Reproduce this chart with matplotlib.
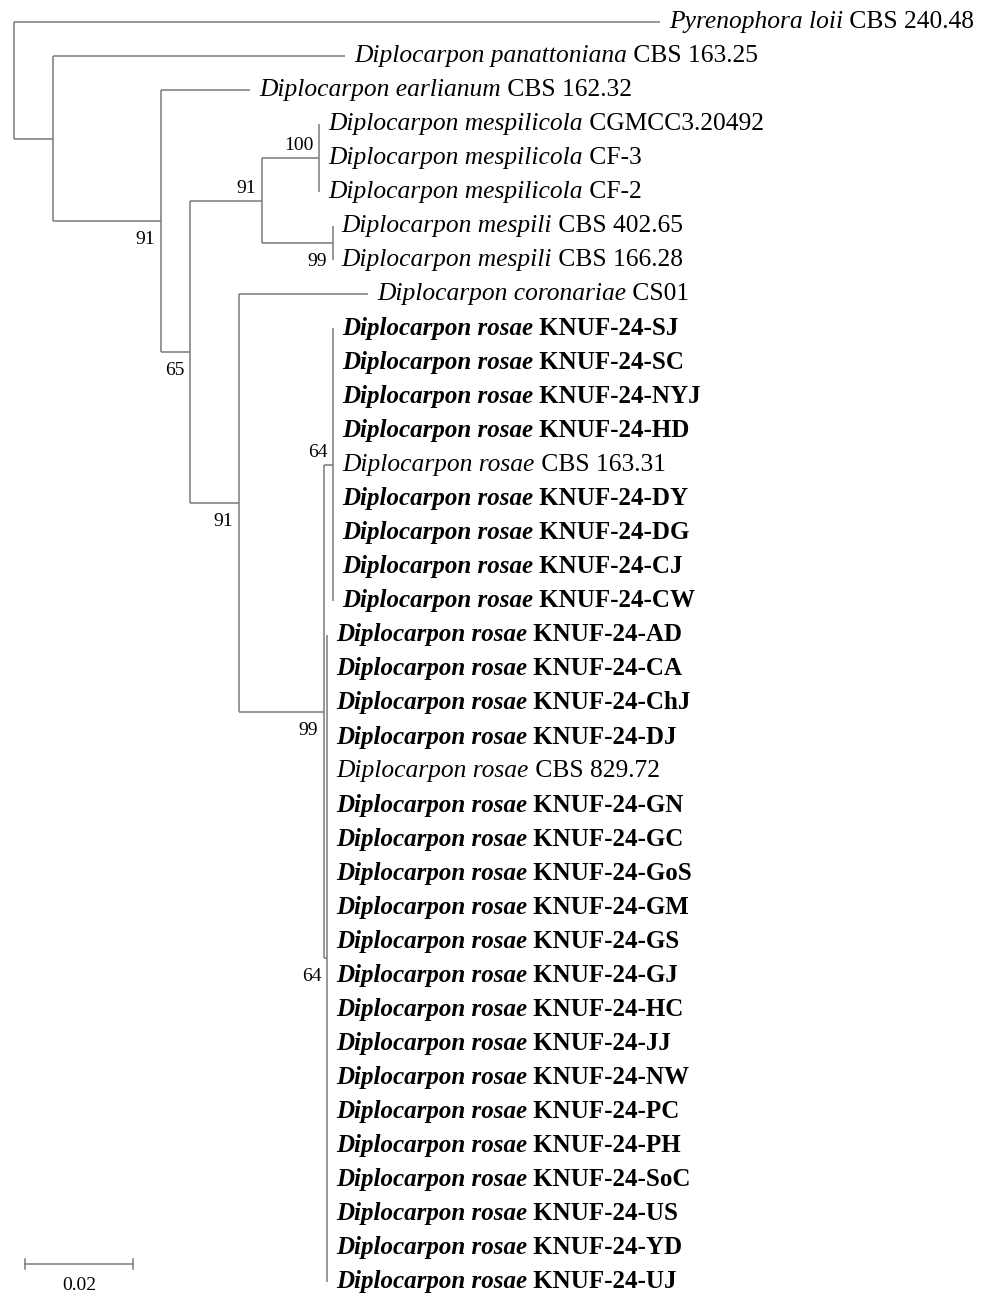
import matplotlib
matplotlib.use("Agg")
import matplotlib.pyplot as plt

plt.rcParams['font.family'] = ['Liberation Serif', 'DejaVu Serif']

# tips, top to bottom
tip_species = ["Pyrenophora loii", "Diplocarpon panattoniana", "Diplocarpon earlianum",
               "Diplocarpon mespilicola", "Diplocarpon mespilicola", "Diplocarpon mespilicola",
               "Diplocarpon mespili", "Diplocarpon mespili", "Diplocarpon coronariae"] + ["Diplocarpon rosae"] * 29
tip_strain = ["CBS 240.48", "CBS 163.25", "CBS 162.32",
              "CGMCC3.20492", "CF-3", "CF-2",
              "CBS 402.65", "CBS 166.28", "CS01",
              "KNUF-24-SJ", "KNUF-24-SC", "KNUF-24-NYJ", "KNUF-24-HD", "CBS 163.31",
              "KNUF-24-DY", "KNUF-24-DG", "KNUF-24-CJ", "KNUF-24-CW",
              "KNUF-24-AD", "KNUF-24-CA", "KNUF-24-ChJ", "KNUF-24-DJ", "CBS 829.72",
              "KNUF-24-GN", "KNUF-24-GC", "KNUF-24-GoS", "KNUF-24-GM", "KNUF-24-GS",
              "KNUF-24-GJ", "KNUF-24-HC", "KNUF-24-JJ", "KNUF-24-NW", "KNUF-24-PC",
              "KNUF-24-PH", "KNUF-24-SoC", "KNUF-24-US", "KNUF-24-YD", "KNUF-24-UJ"]
tip_bold = [s.startswith("KNUF") for s in tip_strain]
tip_parent = ["root", "A", "B", "M1", "M1", "M1", "M2", "M2", "E"] + ["G"] * 9 + ["H"] * 20
tip_length = [0.1196, 0.0541, 0.0165, 0, 0, 0, 0, 0, 0.0239] + [0] * 29

# internal nodes
node_id = ["root", "A", "B", "C", "D", "M1", "M2", "E", "F", "G", "H"]
node_parent = [None, "root", "A", "B", "C", "D", "D", "C", "E", "F", "F"]
node_length = [0, 0.0072, 0.0200, 0.0054, 0.0133, 0.0106, 0.0131, 0.0091, 0.0157, 0.0017, 0.0006]
node_support = [None, None, "91", "65", "91", "100", "99", "91", "99", "64", "64"]
support_above = [False, False, False, False, True, True, False, False, False, True, False]

scale_len = 0.02

# positions
node_x = {}
for nid, par, ln in zip(node_id, node_parent, node_length):
    node_x[nid] = 0 if par is None else node_x[par] + ln

tip_x = [node_x[p] + l for p, l in zip(tip_parent, tip_length)]
tip_y = list(range(len(tip_species)))

children_y = {nid: [] for nid in node_id}
for p, y in zip(tip_parent, tip_y):
    children_y[p].append(y)
node_y = {}
for nid, par in reversed(list(zip(node_id, node_parent))):
    ys = children_y[nid]
    node_y[nid] = (min(ys) + max(ys)) / 2
    if par is not None:
        children_y[par].append(node_y[nid])

fig = plt.figure(figsize=(9.96, 12.99), dpi=100)
ax = fig.add_axes([0, 0, 1, 1])
ax.set_xlim(-14 / 5400, 982 / 5400)
ax.set_ylim(1277 / 34.05, -22 / 34.05)
ax.axis('off')

lc = '#7a7a7a'
lw = 1.1

# horizontal branches
for p, x, y in zip(tip_parent, tip_x, tip_y):
    ax.plot([node_x[p], x], [y, y], color=lc, lw=lw, solid_capstyle='butt')
for nid, par in zip(node_id, node_parent):
    if par is not None:
        ax.plot([node_x[par], node_x[nid]], [node_y[nid], node_y[nid]], color=lc, lw=lw, solid_capstyle='butt')
# vertical lines
for nid in node_id:
    ys = children_y[nid]
    ax.plot([node_x[nid], node_x[nid]], [min(ys), max(ys)], color=lc, lw=lw, solid_capstyle='butt')

# tip labels
for sp, st, b, x, y in zip(tip_species, tip_strain, tip_bold, tip_x, tip_y):
    w = 'bold' if b else 'normal'
    fs = 18 if b else 18.4
    t1 = ax.annotate(sp, xy=(x, y), xytext=(9, 0), textcoords='offset pixels',
                     va='center', ha='left', style='italic', weight=w, fontsize=fs)
    ax.annotate(' ' + st, xy=(1, 0), xycoords=t1, va='bottom', ha='left',
                weight=w, fontsize=fs)

# bootstrap values
for nid, s, above in zip(node_id, node_support, support_above):
    if s is None:
        continue
    ax.annotate(s, xy=(node_x[nid], node_y[nid]), xytext=(-6, 4 if above else -10),
                textcoords='offset pixels', ha='right', va='bottom' if above else 'top',
                fontsize=14)

# scale bar
sx0 = 11 / 5400
sy = 36.48
ax.plot([sx0, sx0 + scale_len], [sy, sy], color=lc, lw=lw)
ax.plot([sx0, sx0], [sy - 0.15, sy + 0.15], color=lc, lw=lw)
ax.plot([sx0 + scale_len, sx0 + scale_len], [sy - 0.15, sy + 0.15], color=lc, lw=lw)
ax.annotate(str(scale_len), xy=(sx0 + scale_len / 2, sy), xytext=(0, -13),
            textcoords='offset pixels', ha='center', va='top', fontsize=14)

fig.savefig('out.png', dpi=100, facecolor='white')
